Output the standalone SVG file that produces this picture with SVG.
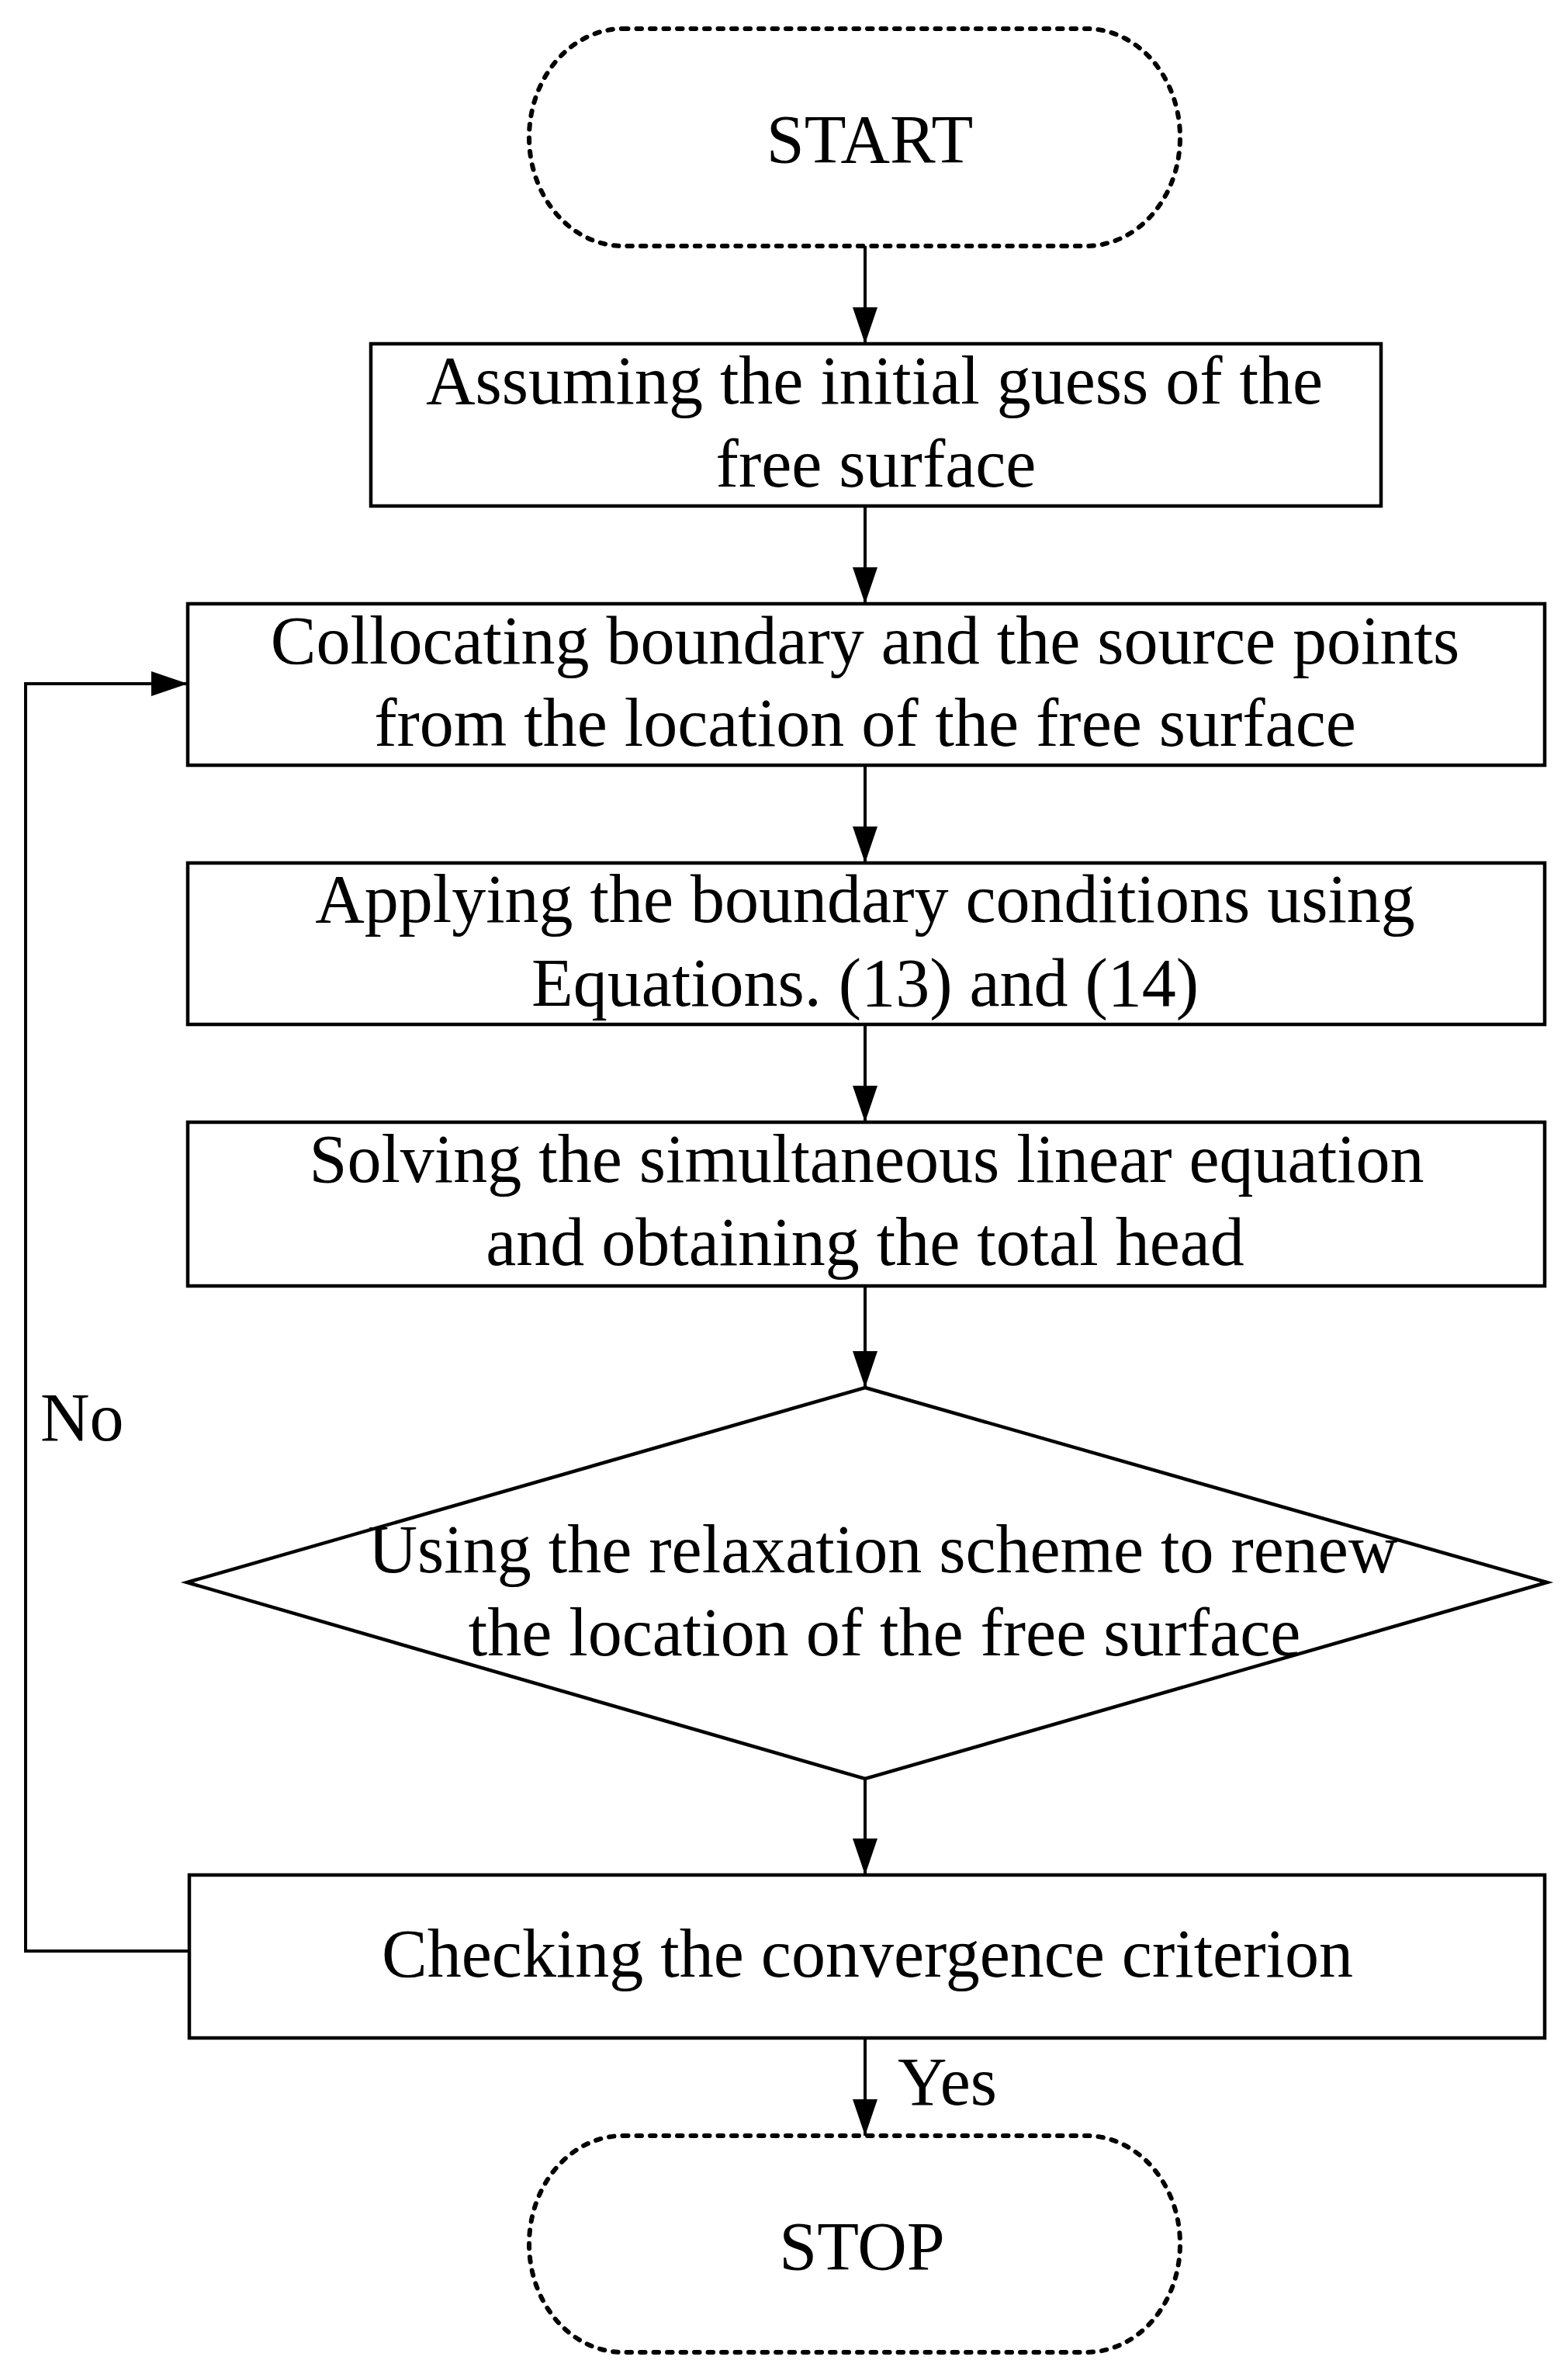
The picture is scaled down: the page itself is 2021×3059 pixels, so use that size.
<svg xmlns="http://www.w3.org/2000/svg" width="2021" height="3059" viewBox="0 0 2021 3059">
<defs>
<style>
.t{font-family:"Liberation Serif","Times New Roman",serif;font-size:88px;fill:#000;text-anchor:middle}
.l{font-family:"Liberation Serif","Times New Roman",serif;font-size:88px;fill:#000}
.box{fill:#fff;stroke:#000;stroke-width:4.5}
.term{fill:#fff;stroke:#000;stroke-width:6;stroke-dasharray:6.5 11;stroke-linecap:round}
.con{fill:none;stroke:#000;stroke-width:4}
</style>
<marker id="arr" viewBox="0 0 47 32" refX="47" refY="16" markerWidth="47" markerHeight="32" markerUnits="userSpaceOnUse" orient="auto">
<path d="M0,0 L47,16 L0,32 Z" fill="#000"/>
</marker>
</defs>
<rect width="2021" height="3059" fill="#fff"/>
<g id="connectors">
<line class="con" x1="1115" y1="317" x2="1115" y2="443" marker-end="url(#arr)"/>
<line class="con" x1="1115" y1="652" x2="1115" y2="778" marker-end="url(#arr)"/>
<line class="con" x1="1115" y1="986" x2="1115" y2="1112" marker-end="url(#arr)"/>
<line class="con" x1="1115" y1="1320" x2="1115" y2="1446" marker-end="url(#arr)"/>
<line class="con" x1="1115" y1="1657" x2="1115" y2="1788" marker-end="url(#arr)"/>
<line class="con" x1="1115" y1="2292" x2="1115" y2="2416" marker-end="url(#arr)"/>
<line class="con" x1="1115" y1="2626" x2="1115" y2="2752" marker-end="url(#arr)"/>
<polyline class="con" points="244,2514 33,2514 33,881 242,881" marker-end="url(#arr)"/>
<text class="l" x="52" y="1856">No</text>
<text class="l" x="1157" y="2712">Yes</text>
</g>
<g id="start">
<path class="term" d="M803,37 H1400 A121,140 0 0 1 1400,317 H803 A121,140 0 0 1 803,37 Z"/>
<text class="t" x="1121" y="209">START</text>
</g>
<g id="box1">
<rect class="box" x="478" y="443" width="1302" height="209"/>
<text class="t" x="1127" y="520">Assuming the initial guess of the</text>
<text class="t" x="1129" y="627">free surface</text>
</g>
<g id="box2">
<rect class="box" x="242" y="778" width="1749" height="208"/>
<text class="t" x="1115" y="855">Collocating boundary and the source points</text>
<text class="t" x="1115" y="961">from the location of the free surface</text>
</g>
<g id="box3">
<rect class="box" x="242" y="1112" width="1749" height="208"/>
<text class="t" x="1115" y="1188">Applying the boundary conditions using</text>
<text class="t" x="1115" y="1296">Equations. (13) and (14)</text>
</g>
<g id="box4">
<rect class="box" x="242" y="1446" width="1749" height="211"/>
<text class="t" x="1117" y="1523">Solving the simultaneous linear equation</text>
<text class="t" x="1115" y="1630">and obtaining the total head</text>
</g>
<g id="decision">
<polygon class="box" points="1115,1788 1994,2039 1115,2292 241,2039"/>
<text class="t" x="1138" y="2026">Using the relaxation scheme to renew</text>
<text class="t" x="1140" y="2133">the location of the free surface</text>
</g>
<g id="box5">
<rect class="box" x="244" y="2416" width="1747" height="210"/>
<text class="t" x="1118" y="2547">Checking the convergence criterion</text>
</g>
<g id="stop">
<path class="term" d="M803,2752 H1400 A121,139.5 0 0 1 1400,3031 H803 A121,139.5 0 0 1 803,2752 Z"/>
<text class="t" x="1111" y="2924">STOP</text>
</g>
</svg>
